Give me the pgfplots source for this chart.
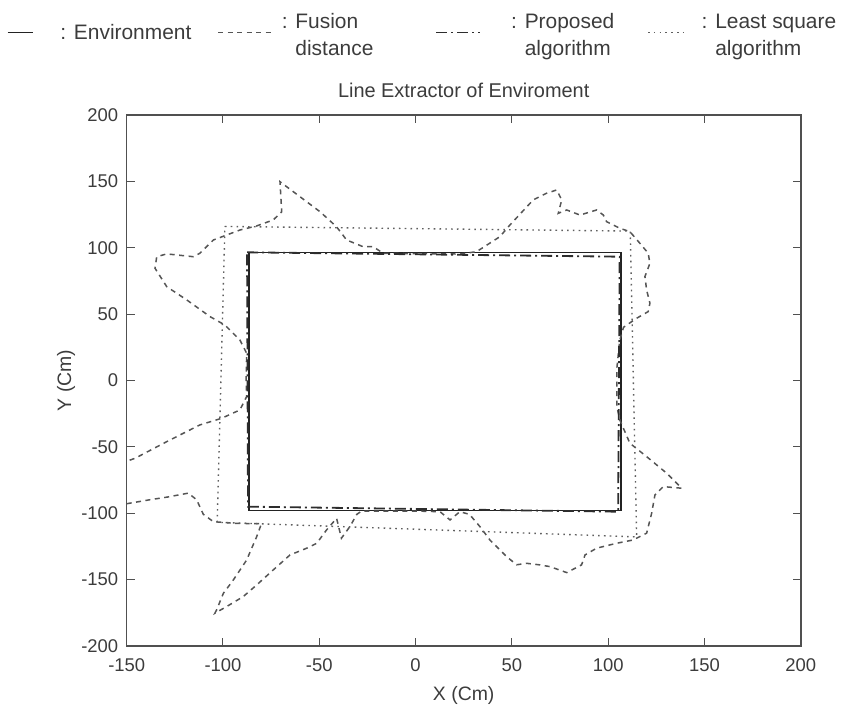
\documentclass[border=0pt]{standalone}
\usepackage{pgfplots}
\pgfplotsset{compat=1.18}
\usepackage{fontspec}
\setmainfont{Liberation Sans}
\definecolor{axgray}{RGB}{80,80,80}
\definecolor{txtgray}{RGB}{60,60,60}
\definecolor{envc}{RGB}{35,35,35}
\definecolor{fusc}{RGB}{85,85,85}
\definecolor{proc}{RGB}{45,45,45}
\definecolor{lsqc}{RGB}{95,95,95}
\pgfplotsset{
  legA/.style={legend image code/.code={\path (0bp,0bp); \draw[##1] (0bp,0bp) -- (25bp,0bp);}},
  legB/.style={legend image code/.code={\path (0bp,0bp); \draw[##1] (26bp,0bp) -- (80bp,0bp);}},
  legC/.style={legend image code/.code={\path (0bp,0bp); \draw[##1] (62bp,0bp) -- (106bp,0bp);}},
  legD/.style={legend image code/.code={\path (0bp,0bp); \draw[##1] (33bp,0bp) -- (70bp,0bp);}},
}
\begin{document}
\begin{tikzpicture}
\path[use as bounding box] (-126.7bp,-62.3bp) rectangle (726.3bp,645.7bp);
\begin{axis}[
  at={(0,0)}, anchor=south west,
  scale only axis, width=674bp, height=530.7bp,
  xmin=-150, xmax=200, ymin=-200, ymax=200,
  xtick={-150,-100,...,200}, ytick={-200,-150,...,200},
  axis line style={draw=axgray, line width=1.6bp},
  tick style={draw=axgray, line width=1bp},
  tick align=inside, major tick length=8bp,
  /pgf/number format/assume math mode=true,
  ticklabel style={font=\fontsize{18.5}{20}\selectfont, text=txtgray},
  xticklabel style={yshift=-9bp},
  yticklabel style={xshift=-5bp},
  xlabel={X (Cm)}, ylabel={Y (Cm)},
  label style={font=\fontsize{19.5}{22}\selectfont, text=txtgray},
  xlabel style={at={(axis description cs:0.5,-0.093)}, anchor=center},
  ylabel style={at={(axis description cs:-0.09,0.5)}, anchor=center},
  title={Line Extractor of Enviroment},
  title style={font=\fontsize{20}{22}\selectfont, text=txtgray, at={(axis description cs:0.5,1.035)}, anchor=center},
  legend columns=4,
  legend cell align=left,
  legend style={draw=none, fill=none, at={(axis description cs:0.4375,1.1555)}, anchor=center,
    font=\fontsize{21}{27}\selectfont, text=txtgray,
    nodes={inner sep=0pt}},
]
% Environment
\addplot[envc, line width=1.5bp, legA]
  coordinates {(-86.5,96.2) (106.8,96.2) (106.8,-98) (-86.5,-98) (-86.5,96.2)};
\addlegendentry{\hspace*{27bp}: Environment}
% Fusion distance
\addplot[fusc, line width=1.5bp, dash pattern=on 5bp off 4.5bp, legB]
  coordinates {
  (-150,-93) (-138,-90) (-129,-88) (-118,-85) (-113.7,-90) (-110.2,-101) (-105,-106.5)
  (-94.6,-107.7) (-84.3,-108) (-80,-108) (-82.5,-117.8) (-87.7,-135.4) (-94.6,-150.4)
  (-99.8,-160.5) (-103.3,-173) (-104.2,-175.5) (-98.1,-170.5) (-89.5,-163) (-82.5,-154.2)
  (-73.9,-142.9) (-65.2,-131.6) (-56.5,-126.5) (-51.3,-122.8) (-46.2,-112.7) (-41,-104)
  (-38.5,-119) (-34,-110) (-30.5,-101) (-28,-98.5) (0,-98.5) (12.7,-99) (17.9,-105.2)
  (23,-99) (28,-101) (33.4,-110.2) (38.6,-120.3) (47.3,-132.9) (52.5,-139) (57.7,-137.9)
  (64,-139) (69.8,-140.4) (78.5,-144.9) (86.2,-139.1) (88,-131.6) (94,-126.5) (104.4,-122.8)
  (113,-120.3) (120,-115.2) (122.6,-100.2) (124.3,-86.4) (128.6,-80.1) (138.2,-81.3)
  (130.4,-70) (120,-57.5) (111.3,-47.4) (106.1,-30) (104.6,-20) (104.6,10) (106,30)
  (108,40) (114.8,46.8) (120.8,51.8) (121.7,58.1) (120,68.1) (119.1,78.2) (121.7,88.2)
  (120.8,95.8) (116.5,103.3) (111.3,112.1) (106.1,114.6) (99.2,119.6) (97.5,124.6)
  (94,128.4) (85.4,124.6) (78.5,128.4) (74.1,125.9) (75.9,136) (73.3,143.5) (68,141)
  (61.1,136) (49,117.1) (43.8,108.3) (31.7,97) (23.1,95.2) (0,95.5) (-16.8,95.8)
  (-22,100.7) (-27.2,100.7) (-35.8,105.8) (-41,115.7) (-49.6,127.1) (-60,138.4)
  (-70.4,149.7) (-69.5,127) (-73.9,120.9) (-82.5,116.4) (-91.2,113.3) (-98,109.6)
  (-105,105.8) (-112,95.8) (-115.4,93.2) (-129.2,95.3) (-134.4,93.2) (-135.3,84.5)
  (-129.2,70.6) (-118.8,60.6) (-106.7,48) (-99,41.7) (-91.2,30.4) (-87.7,20.4)
  (-88,0) (-87.7,-12.2) (-91.2,-22.3) (-100.7,-28.6) (-112,-33.6) (-129.2,-46.2)
  (-145.6,-58.7) (-150,-61)
  };
\addlegendentry{\hspace*{9bp}\raisebox{12.5bp}{\begin{tabular}[c]{@{}l@{}}: Fusion\\\phantom{: }distance\end{tabular}}}
% Proposed algorithm
\addplot[proc, line width=1.8bp, dash pattern=on 11bp off 4bp on 2bp off 4bp, legC]
  coordinates {(-87.5,96.5) (106,93.2) (105.2,-99) (-87,-95.2) (-87.5,96.5)};
\addlegendentry{\hspace*{30bp}\raisebox{12.5bp}{\begin{tabular}[c]{@{}l@{}}: Proposed\\\phantom{: }algorithm\end{tabular}}}
% Least square algorithm
\addplot[lsqc, line width=1.4bp, dash pattern=on 1.6bp off 4.2bp, legD]
  coordinates {(-99,116) (111.5,112.5) (114.8,-118) (-103,-107) (-99,116)};
\addlegendentry{\hspace*{16bp}\raisebox{12.5bp}{\begin{tabular}[c]{@{}l@{}}: Least square\\\phantom{: }algorithm\end{tabular}}}
\end{axis}
\end{tikzpicture}
\end{document}
